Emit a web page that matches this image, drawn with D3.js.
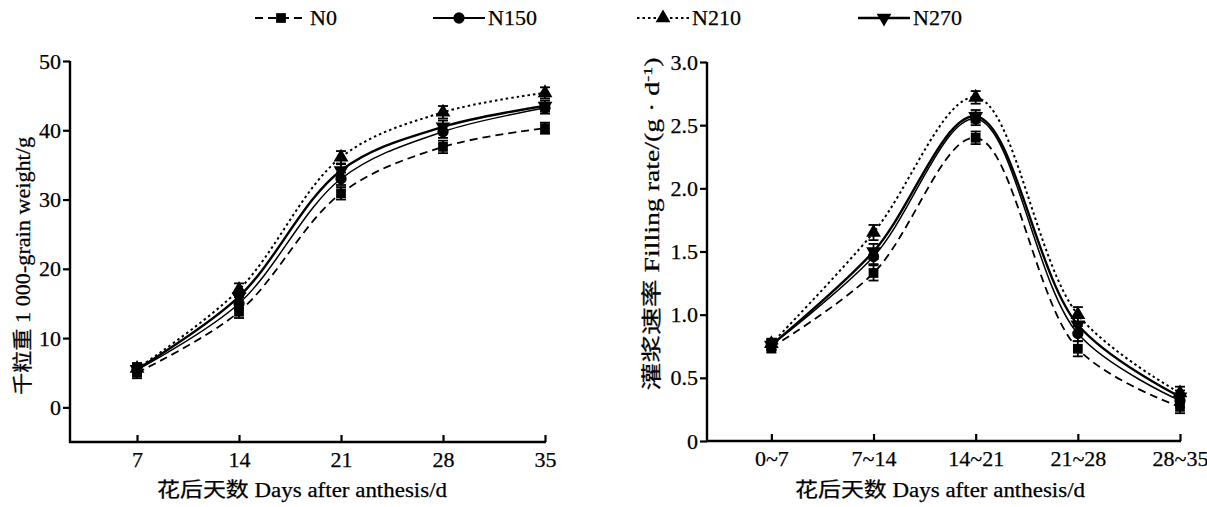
<!DOCTYPE html>
<html>
<head>
<meta charset="utf-8">
<script src="https://cdn.jsdelivr.net/npm/d3@7"></script>
<style>
  body { margin: 0; background: #fff; }
  svg text { font-family: "Liberation Serif", "Noto Sans CJK SC", serif; fill: #000; stroke: #000; stroke-width: 0.25px; }
</style>
</head>
<body>
<svg width="1207" height="507"></svg>
<script>
// treatments
const series = ["N0", "N150", "N210", "N270"];

// thousand grain weight (g) by days after anthesis
const days = [7, 14, 21, 28, 35];
const weightN0   = [5.0, 13.8, 30.9, 37.6, 40.3];
const weightN150 = [5.4, 15.0, 33.0, 39.8, 43.2];
const weightN210 = [5.6, 17.0, 36.1, 42.6, 45.4];
const weightN270 = [5.5, 16.0, 34.2, 40.5, 43.5];
const weightErr  = [0.8, 0.9, 0.9, 0.9, 0.8];

// filling rate (g/d) by period
const periods = ["0~7", "7~14", "14~21", "21~28", "28~35"];
const rateN0   = [0.74, 1.33, 2.40, 0.73, 0.27];
const rateN150 = [0.76, 1.46, 2.55, 0.85, 0.32];
const rateN210 = [0.77, 1.65, 2.72, 1.00, 0.38];
const rateN270 = [0.76, 1.50, 2.57, 0.92, 0.35];
const rateErr  = [0.04, 0.06, 0.05, 0.06, 0.05];

const weights = [weightN0, weightN150, weightN210, weightN270];
const rates = [rateN0, rateN150, rateN210, rateN270];

const styles = [
  { dash: "8,5", width: 1.8, sym: d3.symbolSquare },
  { dash: null, width: 1.5, sym: d3.symbolCircle },
  { dash: "2.5,3", width: 2, sym: d3.symbolTriangle },
  { dash: null, width: 2.4, sym: d3.symbolTriangle, flip: true }
];

const FONT = "'Liberation Serif', 'Noto Sans CJK SC', serif";
const svg = d3.select("svg");

function panel(opt) {
  const g = svg.append("g");
  const x = opt.x, y = opt.y;

  // x axis (ticks inside)
  const xa = g.append("g")
    .attr("transform", `translate(0,${y.range()[0]})`)
    .call(d3.axisBottom(x).tickValues(opt.xticks).tickSize(-7).tickPadding(9).tickFormat(opt.xfmt));
  // y axis
  const ya = g.append("g")
    .attr("transform", `translate(${x.range()[0]},0)`)
    .call(d3.axisLeft(y).tickValues(opt.yticks).tickSize(7).tickPadding(2).tickFormat(opt.yfmt));
  [xa, ya].forEach(a => {
    a.attr("font-family", FONT).attr("font-size", 22);
    a.select(".domain").attr("stroke", "#000").attr("stroke-width", 2.4);
    a.selectAll(".tick line").attr("stroke", "#000").attr("stroke-width", 2.2);
  });
  // replace domain paths to avoid outer ticks
  xa.select(".domain").attr("d", `M${x.range()[0] - 1},0H${x.range()[1] + 1}`);
  ya.select(".domain").attr("d", `M0,${y.range()[0] + 1}V${y.range()[1]}`);

  const line = d3.line()
    .x((d, i) => x(opt.xs[i]))
    .y(d => y(d))
    .curve(d3.curveCatmullRom.alpha(0.5));

  opt.data.forEach((vals, si) => {
    const st = styles[si];
    g.append("path")
      .datum(vals)
      .attr("fill", "none")
      .attr("stroke", "#000")
      .attr("stroke-width", st.width)
      .attr("stroke-dasharray", st.dash)
      .attr("d", line);
  });

  opt.data.forEach((vals, si) => {
    const st = styles[si];
    vals.forEach((v, i) => {
      const cx = x(opt.xs[i]);
      const e = opt.err[i];
      g.append("line")
        .attr("x1", cx).attr("x2", cx)
        .attr("y1", y(v - e)).attr("y2", y(v + e))
        .attr("stroke", "#000").attr("stroke-width", 1.8);
      [v - e, v + e].forEach(b => {
        g.append("line")
          .attr("x1", cx - 5).attr("x2", cx + 5)
          .attr("y1", y(b)).attr("y2", y(b))
          .attr("stroke", "#000").attr("stroke-width", 1.8);
      });
      g.append("path")
        .attr("d", d3.symbol().type(st.sym).size(st.sym === d3.symbolCircle ? 100 : 95)())
        .attr("transform", `translate(${cx},${y(v)})${st.flip ? " rotate(180)" : ""}`)
        .attr("fill", "#000");
    });
  });

  // axis titles
  g.append("text")
    .attr("x", opt.xLabelX)
    .attr("y", 497)
    .attr("text-anchor", "middle")
    .attr("textLength", 290)
    .attr("lengthAdjust", "spacingAndGlyphs")
    .style("font-size", "20px")
    .text("花后天数 Days after anthesis/d");

  const yt = g.append("text")
    .attr("transform", `translate(${opt.yLabelX},${opt.yLabelY}) rotate(-90)`)
    .attr("text-anchor", "middle")
    .attr("textLength", opt.yLabelLen)
    .attr("lengthAdjust", "spacingAndGlyphs")
    .style("font-size", "20px");
  opt.ylabel(yt);
}

// left panel
panel({
  x: d3.scaleLinear().domain([2.4, 35]).range([70, 545]),
  y: d3.scaleLinear().domain([-5, 50]).range([442, 61]),
  xs: days,
  xticks: days,
  xfmt: d3.format("d"),
  yticks: [0, 10, 20, 30, 40, 50],
  yfmt: d3.format("d"),
  data: weights,
  err: weightErr,
  xLabelX: 302,
  yLabelX: 30,
  yLabelY: 266,
  yLabelLen: 258,
  ylabel: t => t.text("千粒重 1 000-grain weight/g")
});

// right panel
panel({
  x: d3.scaleLinear().domain([-0.63, 4]).range([707, 1180]),
  y: d3.scaleLinear().domain([0, 3]).range([441, 62]),
  xs: d3.range(periods.length),
  xticks: d3.range(periods.length),
  xfmt: i => periods[i],
  yticks: [0, 0.5, 1, 1.5, 2, 2.5, 3],
  yfmt: v => v === 0 ? "0" : d3.format(".1f")(v),
  data: rates,
  err: rateErr,
  xLabelX: 940,
  yLabelX: 659,
  yLabelY: 224,
  yLabelLen: 333,
  ylabel: t => {
    t.append("tspan").text("灌浆速率 Filling rate/(g · d");
    t.append("tspan").attr("dy", -7).style("font-size", "13px").text("-1");
    t.append("tspan").attr("dy", 7).text(")");
  }
});

// legend
const legendX = [255, 433, 637, 858];
const leg = svg.append("g");
series.forEach((name, si) => {
  const st = styles[si];
  const lx = legendX[si];
  leg.append("line")
    .attr("x1", lx).attr("x2", lx + 52)
    .attr("y1", 18).attr("y2", 18)
    .attr("stroke", "#000")
    .attr("stroke-width", si === 3 ? 2.4 : 2)
    .attr("stroke-dasharray", st.dash);
  leg.append("path")
    .attr("d", d3.symbol().type(st.sym).size(st.sym === d3.symbolCircle ? 100 : 95)())
    .attr("transform", `translate(${lx + 26},18)${st.flip ? " rotate(180)" : ""}`)
    .attr("fill", "#000");
  leg.append("text")
    .attr("x", lx + 55)
    .attr("y", 25)
    .style("font-size", "22px")
    .text(name);
});
</script>
</body>
</html>
